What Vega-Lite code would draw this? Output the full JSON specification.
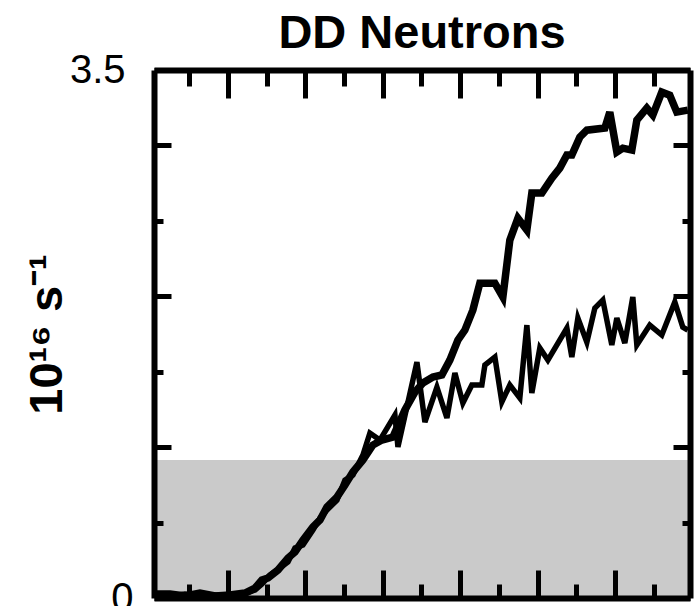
{
  "$schema": "https://vega.github.io/schema/vega-lite/v6.json",
  "width": 536,
  "height": 528,
  "autosize": {"type": "none"},
  "padding": {"left": 154, "top": 70, "right": 7, "bottom": 8},
  "background": "white",
  "title": {
    "text": "DD Neutrons",
    "font": "Liberation Sans",
    "fontSize": 47,
    "fontWeight": "bold",
    "color": "black",
    "anchor": "middle",
    "baseline": "alphabetic",
    "offset": -45
  },
  "config": {
    "view": {"stroke": null},
    "axis": {"zindex": 1, "grid": false}
  },
  "datasets": {
    "band": [{"lo": 0, "hi": 0.915}],
    "upper": [
      {"t": 6.1, "v": 0.027}, {"t": 25.4, "v": 0.027}, {"t": 44.8, "v": 0.013}, {"t": 64.1, "v": 0.033},
      {"t": 83.5, "v": 0.013}, {"t": 102.8, "v": 0.020}, {"t": 122.2, "v": 0.033}, {"t": 135.1, "v": 0.066},
      {"t": 144.1, "v": 0.119}, {"t": 151.9, "v": 0.133}, {"t": 164.8, "v": 0.186}, {"t": 177.7, "v": 0.265},
      {"t": 186.7, "v": 0.305}, {"t": 197.0, "v": 0.384}, {"t": 209.9, "v": 0.471}, {"t": 219.0, "v": 0.517},
      {"t": 228.0, "v": 0.603}, {"t": 240.9, "v": 0.669}, {"t": 251.2, "v": 0.749}, {"t": 261.5, "v": 0.835},
      {"t": 274.4, "v": 0.915}, {"t": 287.3, "v": 1.014}, {"t": 298.9, "v": 1.047}, {"t": 313.1, "v": 1.067},
      {"t": 328.6, "v": 1.246}, {"t": 341.5, "v": 1.365}, {"t": 351.8, "v": 1.425}, {"t": 364.7, "v": 1.465},
      {"t": 376.3, "v": 1.478}, {"t": 386.6, "v": 1.577}, {"t": 397.0, "v": 1.710}, {"t": 406.0, "v": 1.776},
      {"t": 416.3, "v": 1.909}, {"t": 425.3, "v": 2.087}, {"t": 444.7, "v": 2.087}, {"t": 455.0, "v": 1.995},
      {"t": 464.0, "v": 2.372}, {"t": 474.4, "v": 2.518}, {"t": 486.0, "v": 2.439}, {"t": 492.4, "v": 2.684},
      {"t": 505.3, "v": 2.684}, {"t": 518.2, "v": 2.783}, {"t": 528.5, "v": 2.850}, {"t": 537.6, "v": 2.936},
      {"t": 544.0, "v": 2.936}, {"t": 554.3, "v": 3.055}, {"t": 563.4, "v": 3.101}, {"t": 586.6, "v": 3.115},
      {"t": 593.0, "v": 3.221}, {"t": 602.1, "v": 2.956}, {"t": 609.8, "v": 2.982}, {"t": 621.4, "v": 2.969},
      {"t": 627.9, "v": 3.168}, {"t": 640.8, "v": 3.247}, {"t": 648.5, "v": 3.201}, {"t": 660.1, "v": 3.353},
      {"t": 670.4, "v": 3.333}, {"t": 679.5, "v": 3.221}, {"t": 693.7, "v": 3.234}
    ],
    "lower": [
      {"t": 6.1, "v": 0.020}, {"t": 25.4, "v": 0.013}, {"t": 44.8, "v": 0.027}, {"t": 64.1, "v": 0.013},
      {"t": 83.5, "v": 0.020}, {"t": 102.8, "v": 0.013}, {"t": 122.2, "v": 0.027}, {"t": 135.1, "v": 0.053},
      {"t": 144.1, "v": 0.093}, {"t": 154.4, "v": 0.152}, {"t": 167.3, "v": 0.199}, {"t": 177.7, "v": 0.239},
      {"t": 186.7, "v": 0.331}, {"t": 197.0, "v": 0.351}, {"t": 209.9, "v": 0.451}, {"t": 219.0, "v": 0.530},
      {"t": 228.0, "v": 0.583}, {"t": 240.9, "v": 0.649}, {"t": 251.2, "v": 0.782}, {"t": 261.5, "v": 0.815},
      {"t": 274.4, "v": 0.948}, {"t": 283.4, "v": 1.093}, {"t": 296.3, "v": 1.047}, {"t": 315.7, "v": 1.213},
      {"t": 319.6, "v": 1.001}, {"t": 344.1, "v": 1.564}, {"t": 354.4, "v": 1.166}, {"t": 369.9, "v": 1.398},
      {"t": 382.8, "v": 1.193}, {"t": 393.1, "v": 1.491}, {"t": 403.4, "v": 1.292}, {"t": 415.0, "v": 1.412},
      {"t": 427.9, "v": 1.412}, {"t": 431.8, "v": 1.544}, {"t": 444.7, "v": 1.597}, {"t": 453.7, "v": 1.299},
      {"t": 464.0, "v": 1.412}, {"t": 476.9, "v": 1.325}, {"t": 486.0, "v": 1.809}, {"t": 492.4, "v": 1.359},
      {"t": 502.7, "v": 1.657}, {"t": 513.1, "v": 1.577}, {"t": 537.6, "v": 1.789}, {"t": 544.0, "v": 1.597},
      {"t": 551.8, "v": 1.856}, {"t": 563.4, "v": 1.696}, {"t": 573.7, "v": 1.922}, {"t": 584.0, "v": 1.975},
      {"t": 595.6, "v": 1.677}, {"t": 602.1, "v": 1.856}, {"t": 612.4, "v": 1.690}, {"t": 622.7, "v": 1.995},
      {"t": 627.9, "v": 1.677}, {"t": 644.6, "v": 1.809}, {"t": 660.1, "v": 1.743}, {"t": 676.9, "v": 1.962},
      {"t": 687.2, "v": 1.796}, {"t": 693.7, "v": 1.776}
    ]
  },
  "layer": [
    {
      "data": {"name": "band"},
      "mark": {"type": "rect", "color": "#cacaca"},
      "encoding": {
        "y": {"field": "lo", "type": "quantitative", "scale": {"domain": [0, 3.5], "nice": false, "zero": false}, "axis": null},
        "y2": {"field": "hi"}
      }
    },
    {
      "data": {"name": "upper"},
      "mark": {"type": "line", "color": "black", "strokeWidth": 7.5, "strokeJoin": "miter", "clip": true},
      "encoding": {
        "x": {
          "field": "t", "type": "quantitative",
          "scale": {"domain": [4.8, 696.5], "nice": false, "zero": false},
          "axis": {
            "orient": "top", "values": [50, 100, 150, 200, 250, 300, 350, 400, 450, 500, 550, 600, 650],
            "tickSize": {"condition": {"test": "datum.value % 100 === 0", "value": -28}, "value": -16},
            "tickWidth": 5, "tickColor": "black", "labels": false, "grid": false,
            "domain": true, "domainWidth": 6, "domainColor": "black", "title": null, "zindex": 1
          }
        },
        "y": {
          "field": "v", "type": "quantitative",
          "scale": {"domain": [0, 3.5], "nice": false, "zero": false},
          "axis": {
            "orient": "left", "values": [0, 0.5, 1, 1.5, 2, 2.5, 3, 3.5],
            "tickSize": {"condition": {"test": "datum.value % 1 === 0", "value": -17}, "value": -9},
            "tickWidth": 5, "tickColor": "black", "grid": false,
            "labelExpr": "datum.value === 0 ? '0' : datum.value === 3.5 ? '3.5' : ''",
            "labelFont": "Liberation Sans", "labelFontSize": 40, "labelColor": "black", "labelPadding": 38,
            "domain": true, "domainWidth": 6, "domainColor": "black",
            "title": "10¹⁶ s⁻¹", "titleFont": "Liberation Sans", "titleFontSize": 47, "titleFontWeight": "bold",
            "titleColor": "black", "titlePadding": -2, "zindex": 1
          }
        }
      }
    },
    {
      "data": {"name": "lower"},
      "mark": {"type": "line", "color": "black", "strokeWidth": 5.5, "strokeJoin": "miter", "clip": true},
      "encoding": {
        "x": {
          "field": "t", "type": "quantitative",
          "axis": {
            "orient": "bottom", "values": [50, 100, 150, 200, 250, 300, 350, 400, 450, 500, 550, 600, 650],
            "tickSize": {"condition": {"test": "datum.value % 100 === 0", "value": -28}, "value": -14},
            "tickWidth": 5, "tickColor": "black", "labels": false, "grid": false,
            "domain": true, "domainWidth": 6, "domainColor": "black", "title": null, "zindex": 1
          }
        },
        "y": {
          "field": "v", "type": "quantitative",
          "axis": {
            "orient": "right", "values": [0, 0.5, 1, 1.5, 2, 2.5, 3, 3.5],
            "tickSize": {"condition": {"test": "datum.value % 1 === 0", "value": -17}, "value": -8},
            "tickWidth": 5, "tickColor": "black", "labels": false, "grid": false,
            "domain": true, "domainWidth": 6, "domainColor": "black", "title": null, "zindex": 1
          }
        }
      }
    }
  ],
  "resolve": {"axis": {"x": "independent", "y": "independent"}}
}
